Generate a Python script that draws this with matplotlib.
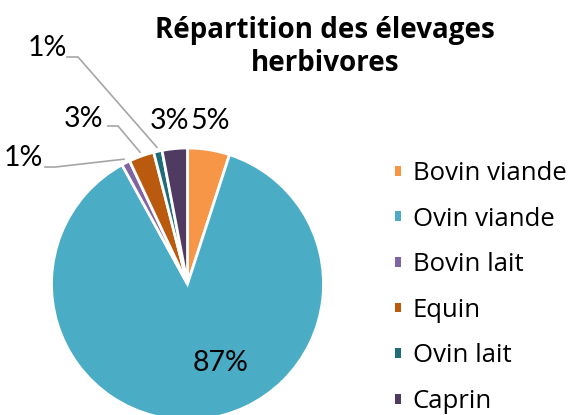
import matplotlib
matplotlib.use("Agg")
import numpy as np
import matplotlib.pyplot as plt

categories = ["Bovin viande", "Ovin viande", "Bovin lait", "Equin", "Ovin lait", "Caprin"]
values = [5, 87, 1, 3, 1, 3]
colors = ["#F79646", "#4BACC6", "#8064A2", "#B95A0E", "#1E6B79", "#4F3B62"]

# label placement (data units, pie radius = 1)
label_pos = {
    "Bovin viande": (0.165, 1.199),
    "Ovin viande": (0.246, -0.581),
    "Caprin": (-0.129, 1.199),
}
# labels with leader lines: (label centre, start of leader, elbow)
leader_pos = {
    "Bovin lait": ((-1.21, 0.926), (-1.048, 0.86), (-0.974, 0.86)),
    "Equin": ((-0.768, 1.213), (-0.585, 1.162), (-0.511, 1.162)),
    "Ovin lait": ((-1.033, 1.735), (-0.886, 1.669), (-0.805, 1.669)),
}

W, H = 569, 415
cx, cy, r = 187.5, 284, 136

fig = plt.figure(figsize=(W / 100, H / 100), dpi=100)
ax = fig.add_axes([0, 0, 1, 1])

wedges, _ = ax.pie(values, colors=colors, startangle=90, counterclock=False,
                   wedgeprops=dict(edgecolor="white", linewidth=2))
ax.set_xlim(-cx / r, (W - cx) / r)
ax.set_ylim((cy - H) / r, cy / r)
ax.axis("off")

lab_font = dict(fontsize=20.5, family="Lato", color="black")
total = sum(values)
for w, cat, v in zip(wedges, categories, values):
    txt = f"{round(100 * v / total)}%"
    if cat in label_pos:
        x, y = label_pos[cat]
        ax.text(x, y, txt, ha="center", va="center", **lab_font)
    else:
        (lx, ly), (sx, sy), (ex, ey) = leader_pos[cat]
        ang = np.deg2rad((w.theta1 + w.theta2) / 2)
        px, py = 1.03 * np.cos(ang), 1.03 * np.sin(ang)
        ax.plot([sx, ex, px], [sy, ey, py], color="#A6A6A6", lw=1.2)
        ax.text(lx, ly, txt, ha="center", va="center", **lab_font)

fig.text(325 / W, 1 - 47 / H, "Répartition des élevages\nherbivores", ha="center", va="center",
         fontsize=20, family="Open Sans", fontweight="bold", linespacing=1.2)

leg = ax.legend(wedges, categories, loc="upper left", bbox_to_anchor=(372 / W, 1 - 138 / H),
                bbox_transform=fig.transFigure, frameon=False,
                prop=dict(family="Open Sans", size=18.5),
                handlelength=0.22, handleheight=0.22, handletextpad=0.47, labelspacing=0.8)
for h in leg.legend_handles:
    h.set_linewidth(0)

fig.savefig("out.png", dpi=100)
